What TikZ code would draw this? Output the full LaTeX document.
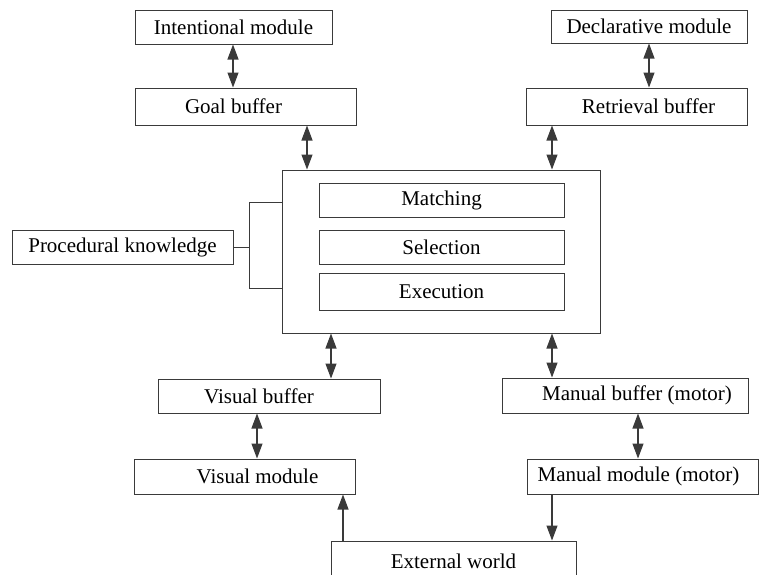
\documentclass[tikz,border=0pt]{standalone}
\usepackage{fontspec}
\setmainfont{Liberation Serif}
\usepackage{xcolor}
\usepackage{tikz}
\usetikzlibrary{arrows.meta,positioning}
\definecolor{actrInk}{HTML}{3A3A3A}
\tikzset{
  module/.style={
    rectangle,
    draw=actrInk,
    line width=1pt,
    inner sep=0pt,
    minimum height=35pt,
    align=center,
    font=\fontsize{21}{25}\selectfont
  },
  stage/.style={
    module,
    minimum width=245pt,
    minimum height=35pt
  },
  biArrow/.style={
    {Triangle[length=15pt,width=11pt]}-{Triangle[length=15pt,width=11pt]},
    line width=1.1pt,
    draw=actrInk
  },
  oneArrow/.style={
    -{Triangle[length=15pt,width=11pt]},
    line width=1.1pt,
    draw=actrInk
  },
  link/.style={
    line width=1pt,
    draw=actrInk
  }
}

\begin{document}
\begin{tikzpicture}[x=1pt,y=-1pt]
  \useasboundingbox (0,0) rectangle (759,574);
  \clip (0,0) rectangle (759,574);
  \node[module,minimum width=197pt,minimum height=34pt] (intent) at (233.5,27) {Intentional module};
  \node[module,minimum width=221pt,minimum height=37pt] (goal) at (245.5,106.5) {Goal buffer\hspace*{24pt}};
  \node[module,minimum width=196pt,minimum height=33pt] (decl) at (649,26.5) {Declarative module};
  \node[module,minimum width=221pt,minimum height=37pt] (retr) at (636.5,106.5) {\hspace*{24pt}Retrieval buffer};
  \node[module,minimum width=318pt,minimum height=163pt] (central) at (441,251.5) {};
  \node[stage,minimum height=34pt] (match) at (441.5,200) {Matching};
  \node[stage,minimum height=34pt] (select) at (441.5,247) {Selection};
  \node[stage,minimum height=37pt] (exec) at (441.5,291.5) {Execution};
  \node[module,minimum width=221pt,minimum height=34pt] (proc) at (122.5,247) {Procedural knowledge};
  \node[module,minimum width=222pt,minimum height=34pt] (vbuf) at (269,396) {Visual buffer\hspace*{20pt}};
  \node[module,minimum width=221pt] (vmod) at (244.5,476.5) {\hspace*{26pt}Visual module};
  \node[module,minimum width=246pt] (mbuf) at (625,395.5) {\hspace*{24pt}Manual buffer (motor)};
  \node[module,minimum width=231pt] (mmod) at (642.5,476.5) {Manual module (motor)\hspace*{8pt}};
  \node[module,minimum width=245pt,minimum height=40pt] (ext) at (453.5,561) {External world};
  % buffers and modules
  \draw[biArrow] (intent.south -| 233,0) -- (goal.north -| 233,0);
  \draw[biArrow] (goal.south -| 307,0) -- (central.north -| 307,0);
  \draw[biArrow] (decl.south) -- (decl.south |- retr.north);
  \draw[biArrow] (retr.south -| 552,0) -- (central.north -| 552,0);
  \draw[biArrow] (central.south -| 331,0) -- (vbuf.north -| 331,0);
  \draw[biArrow] (central.south -| 552,0) -- (mbuf.north -| 552,0);
  \draw[biArrow] (vbuf.south -| 257,0) -- (vmod.north -| 257,0);
  \draw[biArrow] (mbuf.south -| 638,0) -- (mmod.north -| 638,0);
  \draw[oneArrow] (ext.north -| 343,0) -- (vmod.south -| 343,0);
  \draw[oneArrow] (mmod.south -| 552,0) -- (ext.north -| 552,0);
  % procedural bracket
  \draw[link] (central.west |- 0,202) -- (249,202) -- (249,288) -- (central.west |- 0,288);
  \draw[link] (proc.east) -- (proc.east -| 249,0);
\end{tikzpicture}
\end{document}
